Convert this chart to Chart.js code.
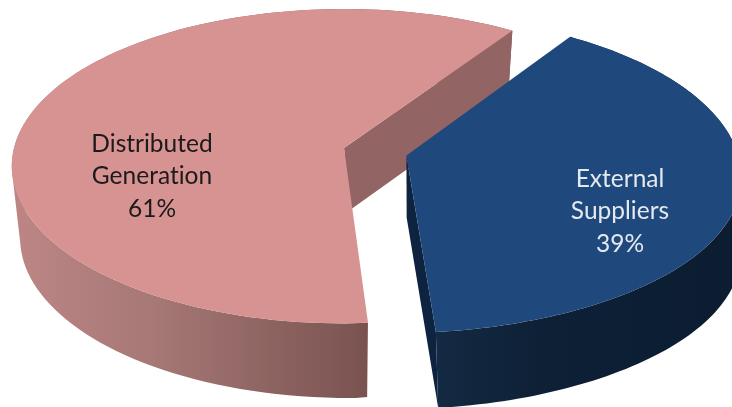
<!DOCTYPE html>
<html>
<head>
<meta charset="utf-8">
<title>Energy sources</title>
<script src="https://cdn.jsdelivr.net/npm/chart.js@4/dist/chart.umd.min.js"></script>
<style>
	html, body { margin: 0; padding: 0; background: #fff; overflow: hidden; }
	#chart { display: block; }
</style>
</head>
<body>
<canvas id="chart" width="732" height="407"></canvas>
<script>
const categories = ['Distributed Generation', 'External Suppliers'];
const shares = [61, 39];
const labelLines = [['Distributed', 'Generation'], ['External', 'Suppliers']];

const topColors = ['#d79292', '#1f497d'];
const wallColors = ['#936464', '#0d2340'];
const rimStops = [
	[[0, '#bd8685'], [0.4, '#a67876'], [1, '#7a5350']],
	[[0, '#142a42'], [0.35, '#0d2036'], [1, '#0c1d31']]
];
const rimSpans = [[12, 365], [437, 732]];
const textColors = ['#1c1a1a', '#e4e9f0'];
const labelSpots = [[152, 153], [620, 188]];

// camera for the upper and lower face of the disc
const upper = { cx: 344, cy: 148, rx: 330, ry: 155.1, k: 0.116, c: 0, a: 13 };
const lower = { cx: 350, cy: 210, rx: 325, ry: 155.5, k: 0.173, c: 5, a: 17 };

function project(cam, u, v) {
	const d = 1 - cam.k * v;
	// the right half leans inward towards the viewer
	const near = Math.max(v, 0);
	const base = cam.c * (1 + Math.min(v, 0));
	const lean = (base + cam.a * near * near * near * near) * Math.min(Math.max(u / 0.1, 0), 1);
	return [
		cam.cx + cam.rx * u / d - lean,
		cam.cy + cam.ry * v / d
	];
}

function arcPoints(cam, ou, ov, from, to) {
	const pts = [];
	const steps = 120;
	for (let i = 0; i <= steps; i++) {
		const t = from + (to - from) * i / steps;
		pts.push(project(cam, ou + Math.cos(t), ov + Math.sin(t)));
	}
	return pts;
}

function addPoly(ctx, pts) {
	pts.forEach((p, i) => i ? ctx.lineTo(p[0], p[1]) : ctx.moveTo(p[0], p[1]));
	ctx.closePath();
}

function fillPoly(ctx, pts, style) {
	ctx.beginPath();
	addPoly(ctx, pts);
	ctx.fillStyle = style;
	ctx.fill();
}

function signedArea(pts) {
	let sum = 0;
	pts.forEach((p, i) => {
		const q = pts[(i + 1) % pts.length];
		sum += p[0] * q[1] - q[0] * p[1];
	});
	return sum;
}

const pie3d = {
	id: 'pie3d',
	beforeDatasetsDraw(chart) {
		const ctx = chart.ctx;
		const arcs = chart.getDatasetMeta(0).data;

		arcs.forEach((arc, i) => {
			const mid = (arc.startAngle + arc.endAngle) / 2;
			const push = arc.options.offset / arc.outerRadius;
			const ou = push * Math.cos(mid);
			const ov = push * Math.sin(mid);

			const topArc = arcPoints(upper, ou, ov, arc.startAngle, arc.endAngle);
			const lowArc = arcPoints(lower, ou, ov, arc.startAngle, arc.endAngle);

			// outer rim: same-handed quads in one path, filled once, so no seams
			const grad = ctx.createLinearGradient(rimSpans[i][0], 0, rimSpans[i][1], 0);
			rimStops[i].forEach(s => grad.addColorStop(s[0], s[1]));
			ctx.beginPath();
			for (let n = 0; n < topArc.length - 1; n++) {
				const quad = [topArc[n], topArc[n + 1], lowArc[n + 1], lowArc[n]];
				addPoly(ctx, signedArea(quad) < 0 ? quad.reverse() : quad);
			}
			ctx.fillStyle = grad;
			ctx.fill();

			// cut face at the end of the slice
			fillPoly(ctx, [
				project(upper, ou, ov),
				topArc[topArc.length - 1],
				lowArc[lowArc.length - 1],
				project(lower, ou, ov)
			], wallColors[i]);

			// top face
			fillPoly(ctx, [project(upper, ou, ov)].concat(topArc), topColors[i]);
		});

		ctx.font = '24.5px Lato';
		ctx.letterSpacing = '0.01px';
		ctx.textAlign = 'center';
		ctx.textBaseline = 'middle';
		arcs.forEach((arc, i) => {
			const lines = labelLines[i].concat(shares[i] + '%');
			ctx.fillStyle = textColors[i];
			lines.forEach((line, n) => {
				ctx.fillText(line, labelSpots[i][0], labelSpots[i][1] - 9 + n * 32.5);
			});
		});
		return false;
	}
};

new Chart(document.getElementById('chart').getContext('2d'), {
	type: 'pie',
	data: {
		labels: categories,
		datasets: [{
			data: shares,
			backgroundColor: topColors,
			borderWidth: 0,
			offset: [0, 36]
		}]
	},
	options: {
		responsive: false,
		animation: false,
		rotation: 174.4,
		layout: { padding: 0 },
		plugins: {
			legend: { display: false },
			tooltip: { enabled: false }
		}
	},
	plugins: [pie3d]
});
</script>
</body>
</html>
